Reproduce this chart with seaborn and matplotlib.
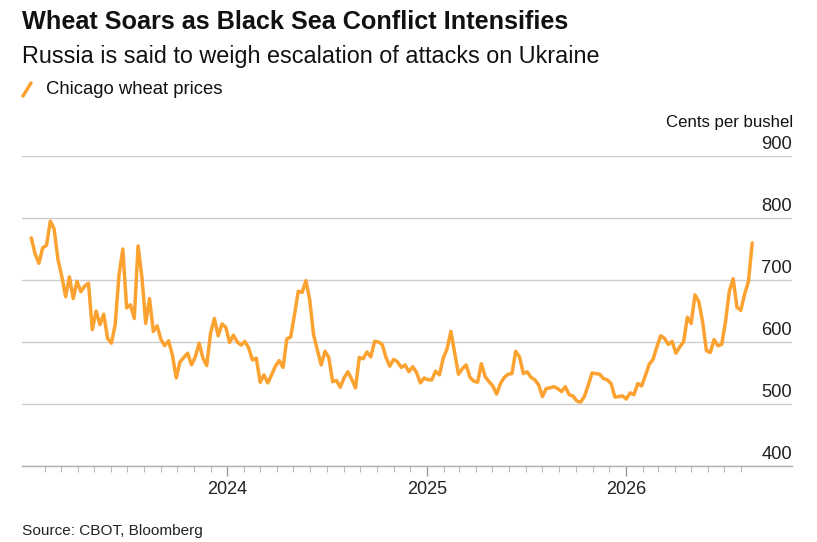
import pandas as pd
import seaborn as sns
import matplotlib.pyplot as plt
import matplotlib.dates as mdates
from matplotlib.lines import Line2D

# weekly closes (Fridays), cents per bushel
week_start = "2023-01-06"
prices = [
    768, 742, 727, 752, 756, 795, 782, 733, 706, 673,
    705, 670, 698, 681, 690, 695, 620, 650, 628, 645,
    606, 598, 628, 708, 750, 655, 660, 638, 755, 705,
    630, 670, 617, 626, 604, 594, 602, 579, 542, 568,
    575, 582, 563, 576, 598, 574, 562, 614, 638, 610,
    629, 624, 599, 611, 600, 595, 601, 590, 571, 574,
    535, 547, 534, 547, 561, 570, 559, 605, 608, 644,
    682, 680, 699, 668, 612, 587, 563, 585, 575, 536,
    538, 527, 542, 552, 540, 526, 575, 573, 584, 576,
    601, 600, 596, 575, 561, 572, 568, 559, 563, 552,
    560, 551, 534, 542, 539, 539, 553, 547, 574, 589,
    617, 582, 548, 557, 563, 543, 537, 535, 565, 544,
    536, 529, 516, 533, 543, 548, 549, 585, 576, 549,
    552, 543, 539, 531, 512, 525, 526, 528, 525, 520,
    528, 515, 513, 505, 503, 512, 530, 550, 549, 548,
    541, 539, 533, 511, 512, 513, 508, 518, 515, 533,
    529, 546, 564, 572, 592, 610, 606, 596, 601, 582,
    592, 600, 640, 630, 676, 665, 632, 586, 583, 604,
    594, 596, 633, 682, 702, 656, 651, 677, 697, 760,
]
dates = pd.date_range(start=week_start, periods=len(prices), freq="W-FRI")
df = pd.DataFrame({"date": dates, "price": prices})

y_ticks = [400, 500, 600, 700, 800, 900]
year_ticks = ["2024-01-01", "2025-01-01", "2026-01-01"]

title = "Wheat Soars as Black Sea Conflict Intensifies"
subtitle = "Russia is said to weigh escalation of attacks on Ukraine"
series_name = "Chicago wheat prices"
unit = "Cents per bushel"
source = "Source: CBOT, Bloomberg"

orange = "#FBA231"

sns.set_theme(style="white")
plt.rcParams["font.family"] = ["Liberation Sans", "DejaVu Sans"]

fig = plt.figure(figsize=(8.17, 5.42), dpi=100)
ax = fig.add_axes([22 / 817, 1 - 466 / 542, 770 / 817, 310 / 542])

sns.lineplot(data=df, x="date", y="price", ax=ax, color=orange, linewidth=2.5)

ax.set_ylim(400, 900)
ax.set_xlim(pd.Timestamp("2022-12-20"), pd.Timestamp("2026-11-02"))
ax.set_yticks(y_ticks)
ax.yaxis.grid(True, color="#cccccc", linewidth=1)
ax.tick_params(axis="y", left=False, labelleft=False)
ax.set_xlabel("")
ax.set_ylabel("")

for s in ["left", "right", "top"]:
    ax.spines[s].set_visible(False)
ax.spines["bottom"].set_color("#b0b0b0")
ax.spines["bottom"].set_linewidth(1)

# y labels sit on top of gridlines at the right edge
for v in y_ticks:
    ax.annotate(str(v), xy=(1.0, v), xycoords=ax.get_yaxis_transform(),
                xytext=(0, 2.5), textcoords="offset points",
                ha="right", va="bottom", fontsize=13.2, color="#222222")

ax.set_xticks(pd.to_datetime(year_ticks))
ax.xaxis.set_major_formatter(mdates.DateFormatter("%Y"))
minor = [d for d in pd.date_range("2023-02-01", "2026-08-01", freq="MS") if d.month != 1]
ax.set_xticks(minor, minor=True)
ax.tick_params(axis="x", which="major", length=7, width=1, color="#999999",
               labelsize=13, labelcolor="#222222", pad=4, bottom=True)
ax.tick_params(axis="x", which="minor", length=4, width=0.8, color="#bbbbbb", bottom=True)

fig.text(22 / 817, 1 - 22 / 542, title, fontsize=18.2, fontweight="bold",
         ha="left", va="center", color="#111111")
fig.text(22 / 817, 1 - 56 / 542, subtitle, fontsize=16.8, ha="left", va="center",
         color="#111111")
fig.add_artist(Line2D([23 / 817, 31 / 817], [1 - 96 / 542, 1 - 83 / 542],
                      color=orange, linewidth=2.5, transform=fig.transFigure))
fig.text(46 / 817, 1 - 89 / 542, series_name, fontsize=13.3, ha="left", va="center",
         color="#111111")
fig.text(793 / 817, 1 - 122 / 542, unit, fontsize=12.1, ha="right", va="center",
         color="#111111")
fig.text(22 / 817, 1 - 531 / 542, source, fontsize=11.1, ha="left", va="center",
         color="#222222")

fig.savefig("out.png", dpi=100)
plt.close(fig)
